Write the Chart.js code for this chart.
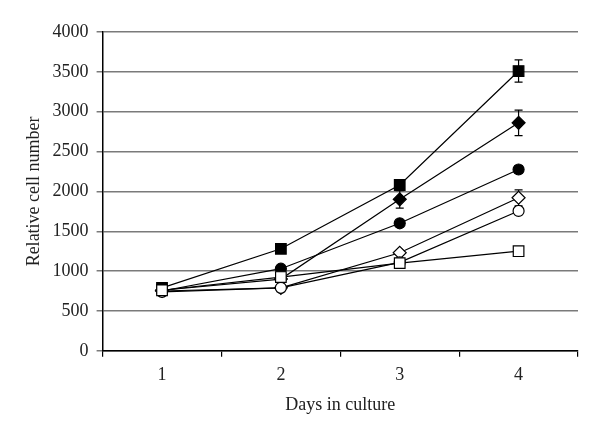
<!DOCTYPE html>
<html>
<head>
<meta charset="utf-8">
<script src="https://cdn.jsdelivr.net/npm/chart.js@4.4.1/dist/chart.umd.min.js"></script>
<style>
    html, body { margin: 0; padding: 0; background: #fff; }
    #wrap { width: 600px; height: 437px; }
</style>
</head>
<body>
<div id="wrap"><canvas id="chart" width="600" height="437"></canvas></div>
<script>
// Подписи и значения
let days = ['1', '2', '3', '4'];
let yTicks = [0, 500, 1000, 1500, 2000, 2500, 3000, 3500, 4000];

let squareFilled = [790, 1280, 2080, 3510];
let squareFilledErr = [0, 0, 0, 140];
let diamondFilled = [760, 900, 1900, 2860];
let diamondFilledErr = [0, 0, 110, 160];
let circleFilled = [750, 1030, 1600, 2275];
let circleFilledErr = [0, 0, 0, 50];
let diamondOpen = [750, 790, 1230, 1920];
let diamondOpenErr = [0, 0, 0, 100];
let circleOpen = [740, 790, 1110, 1755];
let circleOpenErr = [0, 0, 0, 0];
let squareOpen = [760, 925, 1100, 1250];
let squareOpenErr = [0, 0, 0, 0];

let serif = '"Liberation Serif", "DejaVu Serif", serif';

document.addEventListener('DOMContentLoaded', InitChart);

// Плагин для усов погрешности
let errorBarPlugin = {
    id: 'errorBars',
    beforeDatasetsDraw(chart)
    {
        let ctx = chart.ctx;
        let y = chart.scales.y;

        chart.data.datasets.forEach(function (ds, i) {
            let meta = chart.getDatasetMeta(i);

            ds.errors.forEach(function (e, j) {
                if (!e)
                {
                    return;
                }

                let pt = meta.data[j];
                let top = y.getPixelForValue(ds.data[j] + e);
                let bot = y.getPixelForValue(ds.data[j] - e);

                ctx.save();
                ctx.strokeStyle = '#000';
                ctx.lineWidth = 1.2;
                ctx.beginPath();
                ctx.moveTo(pt.x, top);
                ctx.lineTo(pt.x, bot);
                ctx.moveTo(pt.x - 4, top);
                ctx.lineTo(pt.x + 4, top);
                ctx.moveTo(pt.x - 4, bot);
                ctx.lineTo(pt.x + 4, bot);
                ctx.stroke();
                ctx.restore();
            });
        });
    }
};

function MakeSet(data, errors, style, fill, radius)
{
    return {
        data: data,
        errors: errors,
        borderColor: '#000',
        borderWidth: 1.2,
        pointStyle: style,
        pointRadius: radius,
        pointBackgroundColor: fill,
        pointBorderColor: '#000',
        pointBorderWidth: 1.2,
        fill: false,
        tension: 0
    };
}

function InitChart()
{
    let chart = document.getElementById('chart').getContext('2d');

    new Chart(chart, {
        type: 'line',
        data: {
            labels: days,
            datasets: [
                MakeSet(squareOpen, squareOpenErr, 'rect', '#fff', 7.5),
                MakeSet(circleOpen, circleOpenErr, 'circle', '#fff', 5.5),
                MakeSet(diamondOpen, diamondOpenErr, 'rectRot', '#fff', 6.5),
                MakeSet(circleFilled, circleFilledErr, 'circle', '#000', 5.5),
                MakeSet(diamondFilled, diamondFilledErr, 'rectRot', '#000', 6.5),
                MakeSet(squareFilled, squareFilledErr, 'rect', '#000', 7.5)
            ]
        },
        options: {
            responsive: false,
            animation: false,
            devicePixelRatio: 1,
            layout: {
                padding: { left: 23, top: 32, right: 22, bottom: 21 }
            },
            plugins: {
                legend: { display: false },
                tooltip: { enabled: false }
            },
            scales: {
                x: {
                    type: 'category',
                    offset: true,
                    grid: {
                        offset: true,
                        drawOnChartArea: false,
                        color: '#000',
                        lineWidth: 1.2,
                        tickLength: 6
                    },
                    border: { color: '#000', width: 1.5 },
                    ticks: {
                        color: '#222',
                        padding: 8,
                        font: { family: serif, size: 18 }
                    },
                    title: {
                        display: true,
                        text: 'Days in culture',
                        color: '#222',
                        padding: { top: 0, bottom: 0 },
                        font: { family: serif, size: 18 }
                    }
                },
                y: {
                    min: 0,
                    max: 4000,
                    afterBuildTicks: function (axis) {
                        axis.ticks = yTicks.map(function (v) { return { value: v }; });
                    },
                    grid: {
                        color: '#7a7a7a',
                        lineWidth: 1.5,
                        tickLength: 6
                    },
                    border: { color: '#000', width: 1.5 },
                    ticks: {
                        color: '#222',
                        padding: 8,
                        font: { family: serif, size: 18 },
                        callback: function (v) { return String(v); }
                    },
                    title: {
                        display: true,
                        text: 'Relative cell number',
                        color: '#222',
                        padding: { top: 0, bottom: 0 },
                        font: { family: serif, size: 18 }
                    }
                }
            }
        },
        plugins: [errorBarPlugin]
    });
}
</script>
</body>
</html>
